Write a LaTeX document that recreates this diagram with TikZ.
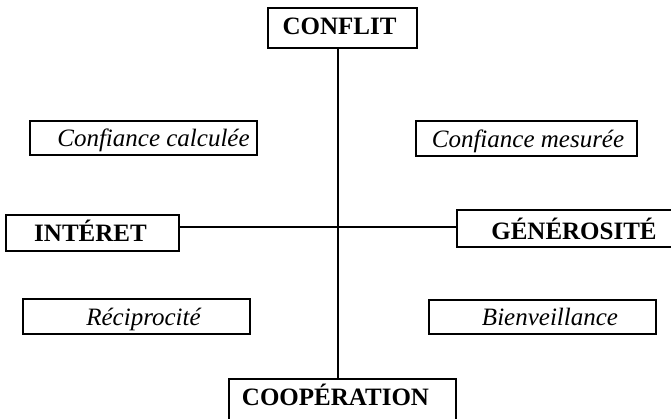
\documentclass[tikz,border=0pt]{standalone}
\usepackage{fontspec}
\setmainfont{Liberation Serif}
\usetikzlibrary{fit}
\begin{document}
\begin{tikzpicture}[x=0.75pt,y=-0.75pt,
  box/.style={draw=black, line width=0.8pt, inner sep=0pt, fill=white},
  txt/.style={inner sep=0pt, text height=12.4pt, text depth=0pt, font=\fontsize{18.75}{22}\selectfont},
  bold/.style={txt, font=\fontsize{18.75}{22}\selectfont\bfseries},
  ital/.style={txt, font=\fontsize{18.75}{22}\selectfont\itshape},
  axis/.style={draw=black, line width=0.8pt}]
\useasboundingbox (0,0) rectangle (671,418);
\clip (0,0) rectangle (671,418);
\coordinate (vx) at (338,0);
\coordinate (hy) at (0,227);
% axes first so boxes sit on top
\node[box, fit={(268,8) (417,48)}] (conflit) {};
\node[box, fit={(229,379) (456,440)}] (coop) {};
\node[box, fit={(6,215) (179,251)}] (interet) {};
\node[box, fit={(457,210) (690,247)}] (gen) {};
\draw[axis] (conflit.south -| vx) -- (coop.north -| vx);
\draw[axis] (interet.east |- hy) -- (gen.west |- hy);
\node[bold] (tconflit) at (339.5,26.7) {CONFLIT};
\node[bold] (tcoop) at (335.5,397) {COOPÉRATION};
\node[bold] (tinteret) at (90.5,233.3) {INTÉRET};
\node[bold] (tgen) at (574,230.8) {GÉNÉROSITÉ};
\node[box, fit={(30,121) (257,155)}] (cc) {};
\node[ital] (tcc) at (153.5,138.7) {Confiance calculée};
\node[box, fit={(416,121) (637,156)}] (cm) {};
\node[ital] (tcm) at (528,139.5) {Confiance mesurée};
\node[box, fit={(23,299) (250,334)}] (rec) {};
\node[ital] (trec) at (143.5,317.7) {Réciprocité};
\node[box, fit={(429,300) (656,334)}] (bien) {};
\node[ital] (tbien) at (550,317.7) {Bienveillance};
\end{tikzpicture}
\end{document}
